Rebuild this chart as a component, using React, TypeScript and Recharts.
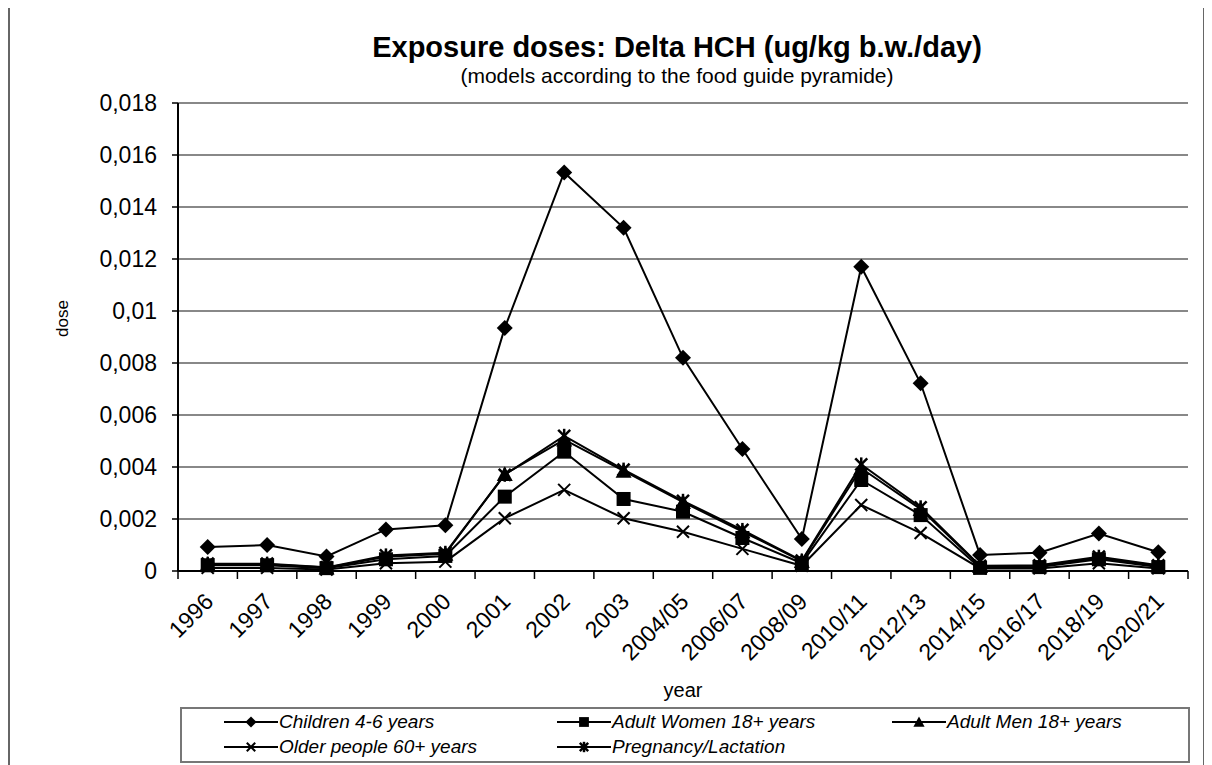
import React from 'react'
import { LineChart, Line, XAxis, YAxis, CartesianGrid, Label } from 'recharts'

const years = ['1996', '1997', '1998', '1999', '2000', '2001', '2002', '2003', '2004/05', '2006/07', '2008/09', '2010/11', '2012/13', '2014/15', '2016/17', '2018/19', '2020/21']

const children = [0.00092, 0.001, 0.00056, 0.0016, 0.00176, 0.00935, 0.01533, 0.0132, 0.0082, 0.00469, 0.00123, 0.0117, 0.00722, 0.00062, 0.0007, 0.00144, 0.00072]
const women = [0.00022, 0.00022, 0.00011, 0.00045, 0.00058, 0.00286, 0.00459, 0.00277, 0.00228, 0.00127, 0.0003, 0.0035, 0.00215, 0.00012, 0.00015, 0.00045, 0.00015]
const men = [0.00026, 0.00026, 0.00013, 0.00055, 0.00066, 0.00372, 0.00505, 0.00385, 0.00265, 0.00152, 0.00038, 0.00395, 0.00238, 0.00018, 0.0002, 0.0005, 0.0002]
const older = [0.00012, 0.00012, 0.00006, 0.0003, 0.00036, 0.00203, 0.00312, 0.00203, 0.00151, 0.00085, 0.0002, 0.00254, 0.00146, 0.0001, 0.0001, 0.0003, 0.0001]
const pregnancy = [0.00028, 0.00028, 0.00014, 0.0006, 0.0007, 0.0037, 0.0052, 0.0039, 0.0027, 0.00158, 0.0004, 0.0041, 0.00245, 0.0002, 0.00022, 0.00055, 0.00022]

const yTicks = [0, 0.002, 0.004, 0.006, 0.008, 0.01, 0.012, 0.014, 0.016, 0.018]

const series = [
  { key: 'children', name: 'Children 4-6 years', values: children, marker: 'diamond' },
  { key: 'women', name: 'Adult Women 18+ years', values: women, marker: 'square' },
  { key: 'men', name: 'Adult Men 18+ years', values: men, marker: 'triangle' },
  { key: 'older', name: 'Older people 60+ years', values: older, marker: 'x' },
  { key: 'pregnancy', name: 'Pregnancy/Lactation', values: pregnancy, marker: 'star' },
]

const data = years.map((year, i) => {
  const row: any = { year }
  series.forEach((s) => { row[s.key] = s.values[i] })
  return row
})

const FONT = '"Liberation Sans", Arial, sans-serif'
const W = 1197
const H = 760
const MARGIN = { top: 98, right: 17, left: 10, bottom: 68 }
const Y_W = 160
const X_H = 126
const STEP = (W - MARGIN.left - Y_W - MARGIN.right) / years.length

function Marker({ kind, cx, cy, s = 1 }: { kind: string; cx: number; cy: number; s?: number }) {
  if (cx == null || cy == null) return null
  if (kind === 'diamond') {
    const r = 8 * s
    return <polygon points={`${cx},${cy - r} ${cx + r},${cy} ${cx},${cy + r} ${cx - r},${cy}`} fill="#000" />
  }
  if (kind === 'square') {
    const r = 7 * s
    return <rect x={cx - r} y={cy - r} width={2 * r} height={2 * r} fill="#000" />
  }
  if (kind === 'triangle') {
    const r = 8 * s
    return <polygon points={`${cx},${cy - r} ${cx + r},${cy + r * 0.85} ${cx - r},${cy + r * 0.85}`} fill="#000" />
  }
  if (kind === 'x') {
    const r = 6 * s
    return (
      <g stroke="#000" strokeWidth={2}>
        <line x1={cx - r} y1={cy - r} x2={cx + r} y2={cy + r} />
        <line x1={cx - r} y1={cy + r} x2={cx + r} y2={cy - r} />
      </g>
    )
  }
  const r = 6 * s
  return (
    <g stroke="#000" strokeWidth={2.5}>
      <line x1={cx - r} y1={cy - r} x2={cx + r} y2={cy + r} />
      <line x1={cx - r} y1={cy + r} x2={cx + r} y2={cy - r} />
      <line x1={cx} y1={cy - r - 1} x2={cx} y2={cy + r + 1} />
    </g>
  )
}

function YearTick(props: any) {
  const { x, y, payload, index } = props
  return (
    <g>
      <line x1={x - STEP / 2} y1={y} x2={x - STEP / 2} y2={y + 8} stroke="#000" strokeWidth={1.5} />
      {index === years.length - 1 && (
        <line x1={x + STEP / 2} y1={y} x2={x + STEP / 2} y2={y + 8} stroke="#000" strokeWidth={1.5} />
      )}
      <text
        x={0}
        y={0}
        transform={`translate(${x + 7},${y + 32}) rotate(-45)`}
        textAnchor="end"
        fontSize={23}
        fontFamily={FONT}
        fill="#000"
      >
        {payload.value}
      </text>
    </g>
  )
}

function LegendBox() {
  const cols = [42, 375, 710]
  const rows = [13, 38]
  return (
    <div
      style={{
        position: 'absolute',
        left: 172,
        top: 702,
        width: 1010,
        height: 56,
        border: '2px solid #777',
        boxSizing: 'border-box',
        fontFamily: FONT,
        fontStyle: 'italic',
        fontSize: 19,
      }}
    >
      {series.map((s, i) => {
        const left = cols[i % 3]
        const top = rows[Math.floor(i / 3)]
        return (
          <div key={s.key} style={{ position: 'absolute', left, top: top - 10, height: 20, display: 'flex', alignItems: 'center', whiteSpace: 'nowrap' }}>
            <svg width={54} height={20}>
              <line x1={0} y1={10} x2={54} y2={10} stroke="#000" strokeWidth={2} />
              <Marker kind={s.marker} cx={27} cy={10} s={0.7} />
            </svg>
            <span style={{ marginLeft: 1 }}>{s.name}</span>
          </div>
        )
      })}
    </div>
  )
}

export default function App() {
  return (
    <div style={{ position: 'relative', width: W, height: H, marginTop: -3, fontFamily: FONT }}>
      <div
        style={{
          position: 'absolute',
          left: 0,
          top: 0,
          width: W,
          height: H + 20,
          borderTop: '2px solid #666',
          borderLeft: '2px solid #666',
          borderRight: '2px solid #666',
          boxSizing: 'border-box',
        }}
      />
      <div style={{ position: 'absolute', left: 0, width: W, top: 0, textAlign: 'center', pointerEvents: 'none' }}>
        <div style={{ position: 'absolute', left: 669 - 400, width: 800, top: 28, fontSize: 29, lineHeight: '29px', fontWeight: 'bold' }}>
          Exposure doses: Delta HCH (ug/kg b.w./day)
        </div>
        <div style={{ position: 'absolute', left: 669 - 400, width: 800, top: 60, fontSize: 21, lineHeight: '21px' }}>
          (models according to the food guide pyramide)
        </div>
      </div>
      <div style={{ position: 'absolute', left: 0, top: 0 }}>
        <LineChart width={W} height={H} data={data} margin={MARGIN}>
          <CartesianGrid horizontal vertical={false} stroke="#888" strokeWidth={2} />
          <XAxis
            dataKey="year"
            scale="band"
            height={X_H}
            interval={0}
            tickLine={false}
            tickSize={0}
            tickMargin={0}
            axisLine={{ stroke: '#000', strokeWidth: 2 }}
            tick={<YearTick />}
          >
            <Label value="year" position="insideBottom" offset={0} fontSize={20} fill="#000" fontFamily={FONT} />
          </XAxis>
          <YAxis
            width={Y_W}
            domain={[0, 0.018]}
            ticks={yTicks}
            interval={0}
            tickSize={6}
            tickMargin={15}
            tickFormatter={(v: number) => String(v).replace('.', ',')}
            tick={{ fill: '#000', fontSize: 23, fontFamily: FONT }}
            axisLine={{ stroke: '#000', strokeWidth: 2 }}
            tickLine={{ stroke: '#000', strokeWidth: 1.5 }}
          >
            <Label value="dose" angle={-90} position="insideLeft" offset={44} fontSize={17} fill="#000" fontFamily={FONT} />
          </YAxis>
          <YAxis
            yAxisId="frame"
            orientation="right"
            width={0}
            domain={[0, 0.018]}
            tick={false}
            tickLine={false}
            axisLine={{ stroke: '#888', strokeWidth: 2 }}
          />
          {series.map((s) => (
            <Line
              key={s.key}
              dataKey={s.key}
              name={s.name}
              stroke="#000"
              strokeWidth={2}
              isAnimationActive={false}
              dot={(p: any) => <Marker key={`${s.key}-${p.index}`} kind={s.marker} cx={p.cx} cy={p.cy} />}
              activeDot={false}
            />
          ))}
        </LineChart>
      </div>
      <LegendBox />
    </div>
  )
}
